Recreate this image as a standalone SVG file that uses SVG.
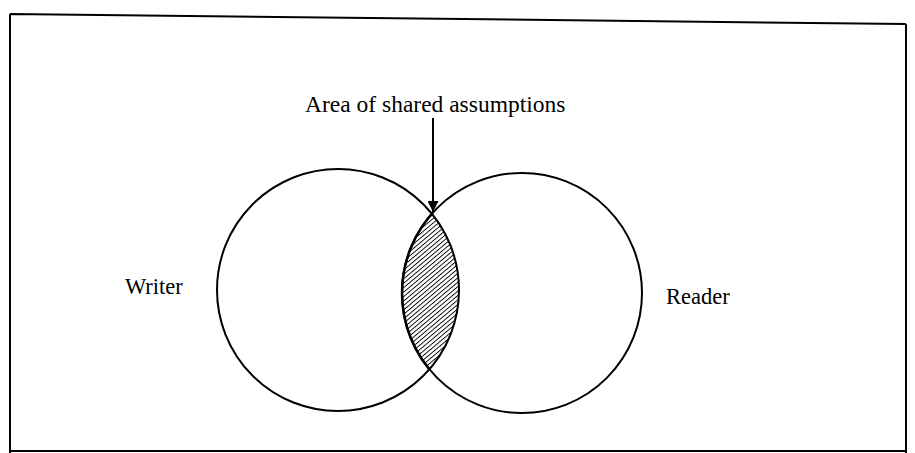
<svg xmlns="http://www.w3.org/2000/svg" width="915" height="453" viewBox="0 0 915 453">
<style>
.ln{fill:none;stroke:#000;stroke-width:2}
.frame{fill:none;stroke:#000;stroke-width:2}
.t{font-family:"Liberation Serif","Times New Roman",serif;fill:#000}
</style>
<defs>
<pattern id="hatch" patternUnits="userSpaceOnUse" width="3.4" height="3.4" patternTransform="rotate(50)">
<rect width="3.4" height="3.4" fill="#fff"/>
<line x1="0" y1="0" x2="0" y2="3.4" stroke="#000" stroke-width="1.8"/>
</pattern>
<marker id="ah" viewBox="0 0 10 10" refX="10" refY="5" markerWidth="20" markerHeight="11" markerUnits="userSpaceOnUse" orient="auto">
<path d="M0,0 L10,5 L0,10 Z" fill="#000"/>
</marker>
<clipPath id="clipL"><circle cx="338" cy="290" r="121"/></clipPath>
</defs>
<g id="frame">
<path class="frame" d="M10,14 L906,24 M10,14 L10,453 M906,24 L906,453 M10,451 L906,451"/>
</g>
<g id="overlap">
<circle cx="522" cy="293" r="120" fill="url(#hatch)" stroke="#000" stroke-width="2.5" clip-path="url(#clipL)"/>
</g>
<g id="writer">
<circle class="ln" cx="338" cy="290" r="121"/>
<text class="t" x="125" y="294" font-size="22.5">Writer</text>
</g>
<g id="reader">
<circle class="ln" cx="522" cy="293" r="120"/>
<text class="t" x="666" y="304" font-size="22.5">Reader</text>
</g>
<g id="label">
<text class="t" x="305" y="112" font-size="23.5">Area of shared assumptions</text>
</g>
<g id="connectors">
<line x1="433" y1="118" x2="433" y2="212" stroke="#000" stroke-width="2" marker-end="url(#ah)"/>
</g>
</svg>
